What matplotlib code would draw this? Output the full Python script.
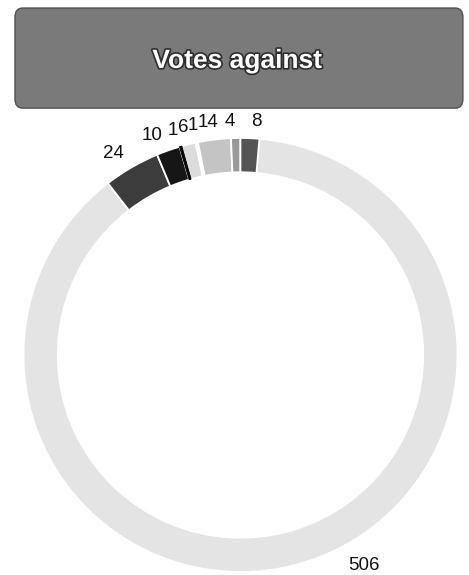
import matplotlib
matplotlib.use('Agg')
import matplotlib.pyplot as plt
import matplotlib.patheffects as pe
from matplotlib.patches import FancyBboxPatch
import numpy as np

plt.rcParams['font.family'] = ['Liberation Sans', 'DejaVu Sans']

# votes against, going clockwise from the top
votes = [506, 24, 10, 1, 6, 1, 14, 4, 8]
labels = ['506', '24', '10', '1', '6', '1', '14', '4', '8']
colors = ['#e4e4e4', '#3c3c3c', '#161616', '#050505', '#dcdcdc',
          '#f7f7f7', '#c4c4c4', '#9a9a9a', '#555555']

fig = plt.figure(figsize=(4.69, 5.75), dpi=100)

# title banner
banner = FancyBboxPatch((0.032, 0.812), 0.955, 0.174,
                        boxstyle='round,pad=0.0,rounding_size=0.016',
                        transform=fig.transFigure, facecolor='#7a7a7a',
                        edgecolor='#505050', linewidth=1.0)
fig.patches.append(banner)
fig.text(0.506, 0.894, 'Votes against', ha='center', va='center',
         fontsize=19, fontweight='bold', color='white',
         path_effects=[pe.withStroke(linewidth=2.4, foreground='#2e2e2e')])

ax = fig.add_axes([0.0501, 0.0052, 0.9254, 0.7548])
label_r = 1.075
wedges, texts = ax.pie(votes, labels=labels, colors=colors,
                       startangle=85, counterclock=False,
                       labeldistance=label_r,
                       wedgeprops=dict(width=0.158, edgecolor='white', linewidth=1.3),
                       textprops=dict(fontsize=13.5, color='#111111'))

# keep the single black vote visible as a thin dark line
wedges[3].set_edgecolor('#050505')
wedges[3].set_linewidth(0.7)
wedges[3].set_zorder(3)

# spread the crowded small labels a little (degrees, negative = clockwise)
nudge = {3: -0.4, 4: -0.9, 5: -1.0, 6: -1.5}
for i, dt in nudge.items():
    w = wedges[i]
    a = np.deg2rad((w.theta1 + w.theta2) / 2 + dt)
    texts[i].set_position((label_r * np.cos(a), label_r * np.sin(a)))

# the big slice's label sits lower right, inside the frame
ang = np.deg2rad(90 - 153)
texts[0].set_position((1.09 * np.cos(ang), 1.09 * np.sin(ang)))
texts[0].set_horizontalalignment('left')

ax.set_xlim(-1, 1)
ax.set_ylim(-1, 1)
ax.set_aspect('equal')
ax.axis('off')

fig.savefig('out.png', dpi=100)
